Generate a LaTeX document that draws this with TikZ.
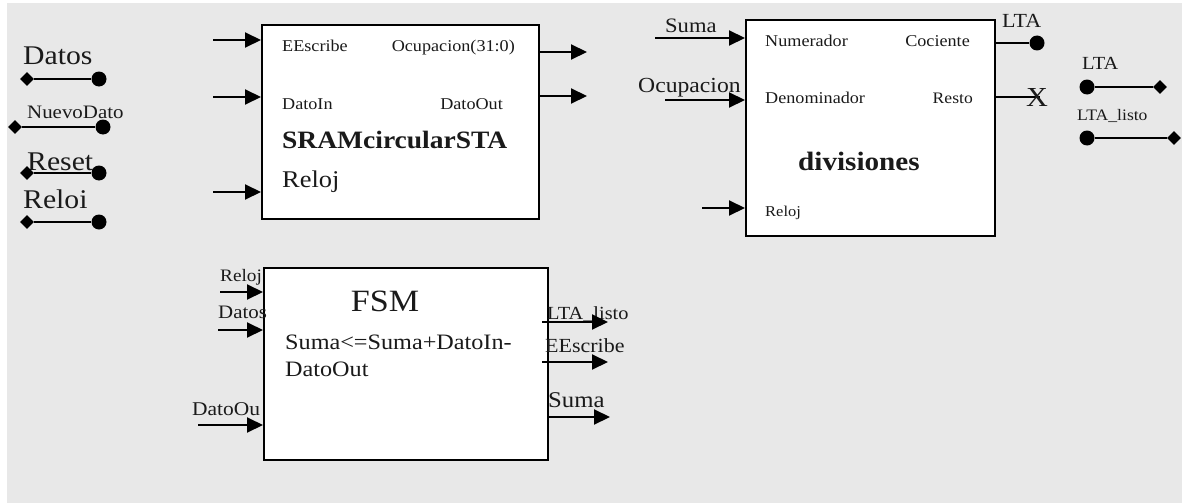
\documentclass[tikz,border=0pt]{standalone}
\usepackage{fontspec}
\setmainfont[FakeStretch=1.1]{Liberation Serif}
\usetikzlibrary{arrows.meta,shapes.geometric}
\definecolor{panel}{HTML}{E8E8E8}
\definecolor{ink}{HTML}{1A1A1A}

\newcommand{\pts}[1]{\fontsize{#1}{#1}\selectfont}

\tikzset{
  blk/.style={draw=black, line width=1.9pt, fill=white, inner sep=0pt, anchor=north west},
  lbl/.style={inner sep=0pt, text=ink, anchor=base west},
  rlbl/.style={inner sep=0pt, text=ink, anchor=base east},
  sig/.style={line width=2pt, -{Triangle[length=16pt,width=15pt]}},
  wire/.style={line width=1.9pt},
  pin/.style={circle, fill=black, minimum size=15pt, inner sep=0pt},
  port/.style={diamond, fill=black, minimum size=14pt, inner sep=0pt},
  small/.style={font=\pts{16.5}},
}

\begin{document}
\begin{tikzpicture}[x=1pt,y=-1pt]
\useasboundingbox (0,0) rectangle (1182,503);
\fill[panel] (7,3) rectangle (1182,503);

% ---------- top-level ports on the left ----------
\node[lbl, font=\pts{27}] (tDatos) at (23,64) {Datos};
\node[port] (dDatos) at (27,79) {};
\node[pin]  (cDatos) at (99,79) {};
\draw[wire] (dDatos) -- (cDatos);

\node[lbl, font=\pts{19}] (tNuevo) at (27,118) {NuevoDato};
\node[port] (dNuevo) at (15,127) {};
\node[pin]  (cNuevo) at (103,127) {};
\draw[wire] (dNuevo) -- (cNuevo);

\node[lbl, font=\pts{27}] (tReset) at (27,170) {Reset};
\node[port] (dReset) at (27,173) {};
\node[pin]  (cReset) at (99,173) {};
\draw[wire] (dReset) -- (cReset);

\node[lbl, font=\pts{27}] (tReloj) at (23,208) {Reloi};
\node[port] (dReloj) at (27,222) {};
\node[pin]  (cReloj) at (99,222) {};
\draw[wire] (dReloj) -- (cReloj);

% ---------- SRAMcircularSTA ----------
\node[blk, minimum width=277pt, minimum height=194pt] (sram) at (261,24) {};
\node[lbl, small] (sEE) at (282,52) {EEscribe};
\node[rlbl, small] (sOc) at (515,52) {Ocupacion(31:0)};
\node[lbl, small] (sDI) at (282,109) {DatoIn};
\node[rlbl, small] (sDO) at (503,109) {DatoOut};
\node[lbl, font=\pts{25}\bfseries] (sName) at (282,148) {SRAMcircularSTA};
\node[lbl, font=\pts{24}] (sClk) at (282,187) {Reloj};

\coordinate (si1) at (213,40);
\coordinate (si2) at (213,97);
\coordinate (si3) at (213,192);
\draw[sig] (si1) -- (si1 -| sram.west);
\draw[sig] (si2) -- (si2 -| sram.west);
\draw[sig] (si3) -- (si3 -| sram.west);
\coordinate (so1) at (587,52);
\coordinate (so2) at (587,96);
\draw[sig] (so1 -| sram.east) -- (so1);
\draw[sig] (so2 -| sram.east) -- (so2);

% ---------- divisiones ----------
\node[blk, minimum width=249pt, minimum height=216pt] (div) at (745,19) {};
\node[lbl, small] (dNum) at (765,46) {Numerador};
\node[lbl, small] (dDen) at (765,103) {Denominador};
\node[lbl, font=\pts{26.5}\bfseries] (dName) at (798,170) {divisiones};
\node[lbl, font=\pts{15}] (dClk) at (765,216) {Reloj};
\node[rlbl, small] (dCoc) at (970,47) {Cociente};
\node[rlbl, font=\pts{16}] (dRes) at (973,103) {Resto};

\node[lbl, font=\pts{20.5}] (dSumaT) at (665,33) {Suma};
\coordinate (di1) at (655,38);
\draw[sig] (di1) -- (di1 -| div.west);
\node[lbl, font=\pts{21.5}] (dOcT) at (638,92) {Ocupacion};
\coordinate (di2) at (665,100);
\draw[sig] (di2) -- (di2 -| div.west);
\coordinate (di3) at (702,208);
\draw[sig] (di3) -- (di3 -| div.west);

\node[pin] (pCoc) at (1037,43) {};
\draw[wire] (pCoc -| div.east) -- (pCoc);
\node[lbl, font=\pts{20}] (tLTAa) at (1002,28) {LTA};
\coordinate (eRes) at (1040,97);
\draw[wire] (eRes -| div.east) -- (eRes);
\node[inner sep=0pt, text=ink, font=\pts{27.5}] (xRes) at (1037,97) {X};

% ---------- top-level ports on the right ----------
\node[lbl, font=\pts{18.5}] (tLTA) at (1082,70) {LTA};
\node[pin]  (cLTA) at (1087,87) {};
\node[port] (dLTA) at (1160,87) {};
\draw[wire] (cLTA) -- (dLTA);

\node[lbl, font=\pts{16}] (tListo) at (1077,120) {LTA\_listo};
\node[pin]  (cListo) at (1087,138) {};
\node[port] (dListo) at (1174,138) {};
\draw[wire] (cListo) -- (dListo);

% ---------- FSM ----------
\node[blk, minimum width=284pt, minimum height=192pt] (fsm) at (263,267) {};
\node[inner sep=0pt, text=ink, anchor=base, font=\pts{31}] (fName) at (385,311) {FSM};
\node[lbl, font=\pts{22}] (fEq1) at (285,349) {Suma<=Suma+DatoIn-};
\node[lbl, font=\pts{22}] (fEq2) at (285,376) {DatoOut};

\node[lbl, font=\pts{17.5}] (fClkT) at (220,281) {Reloj};
\coordinate (fi1) at (220,292);
\draw[sig] (fi1) -- (fi1 -| fsm.west);
\node[lbl, font=\pts{19}] (fDatT) at (218,318) {Datos};
\coordinate (fi2) at (218,330);
\draw[sig] (fi2) -- (fi2 -| fsm.west);
\node[lbl, font=\pts{19.5}] (fDOT) at (192,415) {DatoOu};
\coordinate (fi3) at (198,425);
\draw[sig] (fi3) -- (fi3 -| fsm.west);

\node[lbl, font=\pts{18.5}] (fLT) at (547,319) {LTA\_listo};
\coordinate (fs1) at (542,322);
\coordinate (fo1) at (608,322);
\draw[sig] (fs1) -- (fo1);
\node[lbl, font=\pts{20}] (fEE) at (545,352) {EEscribe};
\coordinate (fs2) at (542,362);
\coordinate (fo2) at (608,362);
\draw[sig] (fs2) -- (fo2);
\node[lbl, font=\pts{22.5}] (fSu) at (548,407) {Suma};
\coordinate (fo3) at (610,417);
\draw[sig] (fo3 -| fsm.east) -- (fo3);
\end{tikzpicture}
\end{document}
